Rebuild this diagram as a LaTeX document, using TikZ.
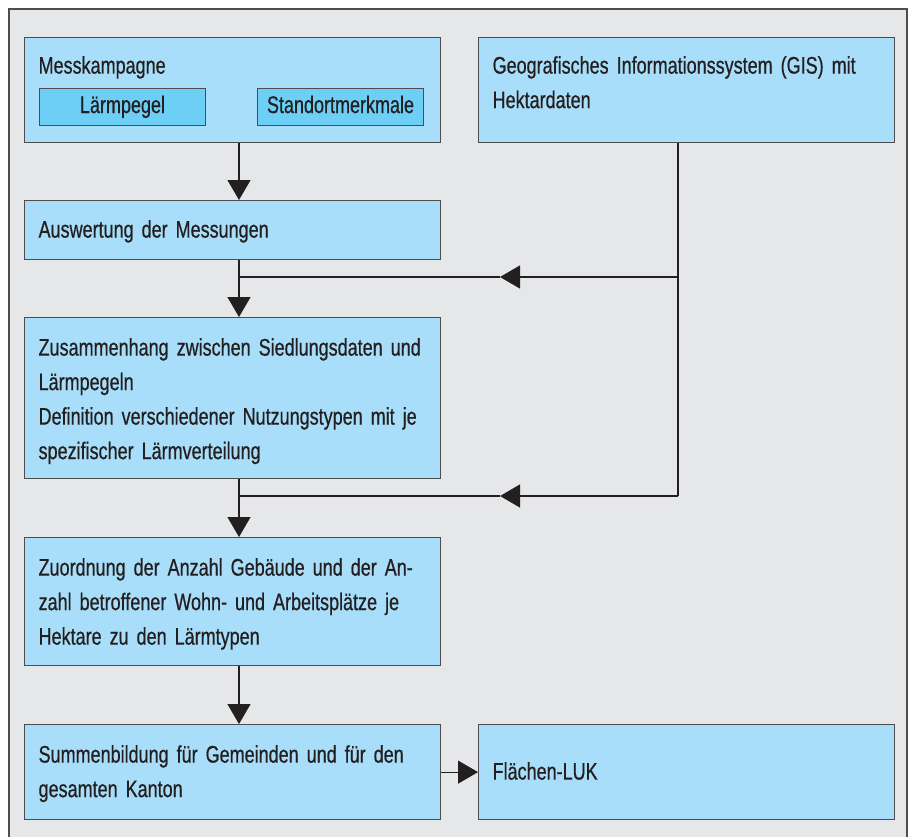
\documentclass[tikz,border=0pt]{standalone}
\usepackage{fontspec}
\setmainfont[FakeStretch=0.75, FakeBold=0.6, WordSpace=0.75]{Liberation Sans}
\usetikzlibrary{arrows.meta}
\definecolor{framegray}{HTML}{E6E7E8}
\definecolor{boxblue}{HTML}{A8DEF9}
\definecolor{subblue}{HTML}{6DCFF6}
\definecolor{edgegray}{HTML}{4D4D4F}
\definecolor{inkblack}{HTML}{231F20}
\tikzset{
    box/.style={draw=edgegray, line width=1.2pt, fill=boxblue, anchor=north west, align=left,
        text width=388pt, inner xsep=14pt, inner ysep=0pt, text height=37pt},
    subbox/.style={draw=edgegray, line width=1pt, fill=subblue, minimum width=166pt, minimum height=37pt,
        inner sep=0pt, anchor=north west, text height=16pt, text depth=4pt},
    arr/.style={-{Triangle[width=23pt,length=20pt]}, line width=1.2pt, draw=inkblack},
    conn/.style={line width=1.2pt, draw=inkblack}
}
\begin{document}
\begin{tikzpicture}[x=1pt, y=-1pt, font=\fontsize{24}{34.5}\selectfont, text=inkblack]
    \clip (0,0) rectangle (915,836);
    \fill[white] (0,0) rectangle (915,836);
    \draw[draw=edgegray, fill=framegray, line width=1.5pt] (9,9) rectangle (907,870);

    \node[box, text height=36pt, text depth=69pt] (mess) at (24,37) {Messkampagne};
    \node[subbox] (laerm) at (39,88) {Lärmpegel};
    \node[subbox] (stand) at (257,88) {Standortmerkmale};
    \node[box, text height=36pt, text depth=69pt] (gis) at (478,37) {Geografisches Informationssystem (GIS) mit\\Hektardaten};
    \node[box, text depth=22pt] (ausw) at (24,200) {Auswertung der Messungen};
    \node[box, text height=38pt, text depth=123pt] (zus) at (24,317) {Zusammenhang zwischen Siedlungsdaten und\\Lärmpegeln\\Definition verschiedener Nutzungstypen mit je\\spezifischer Lärmverteilung};
    \node[box, text height=38pt, text depth=90pt] (zuord) at (24,537) {Zuordnung der Anzahl Gebäude und der An-\\zahl betroffener Wohn- und Arbeitsplätze je\\Hektare zu den Lärmtypen};
    \node[box, text height=38pt, text depth=57pt] (summ) at (24,724) {Summenbildung für Gemeinden und für den\\gesamten Kanton};
    \node[box, text height=55pt, text depth=40pt] (flae) at (478,724) {Flächen-LUK};

    \coordinate (t) at (239,0);
    \coordinate (g) at (678,0);
    \coordinate (j1) at (239,277);
    \coordinate (a1) at (500,277);
    \coordinate (k1) at (678,277);
    \coordinate (j2) at (239,496);
    \coordinate (a2) at (500,496);
    \coordinate (k2) at (678,496);

    \draw[arr] (mess.south -| t) -- (ausw.north -| t);
    \draw[arr] (ausw.south -| t) -- (zus.north -| t);
    \draw[arr] (zus.south -| t) -- (zuord.north -| t);
    \draw[arr] (zuord.south -| t) -- (summ.north -| t);
    \draw[arr] (summ.east) -- (flae.west);

    \draw[conn] (gis.south -| g) -- (k2);
    \draw[arr] (k1) -- (a1);
    \draw[conn] (a1) -- (j1);
    \draw[arr] (k2) -- (a2);
    \draw[conn] (a2) -- (j2);
\end{tikzpicture}
\end{document}
